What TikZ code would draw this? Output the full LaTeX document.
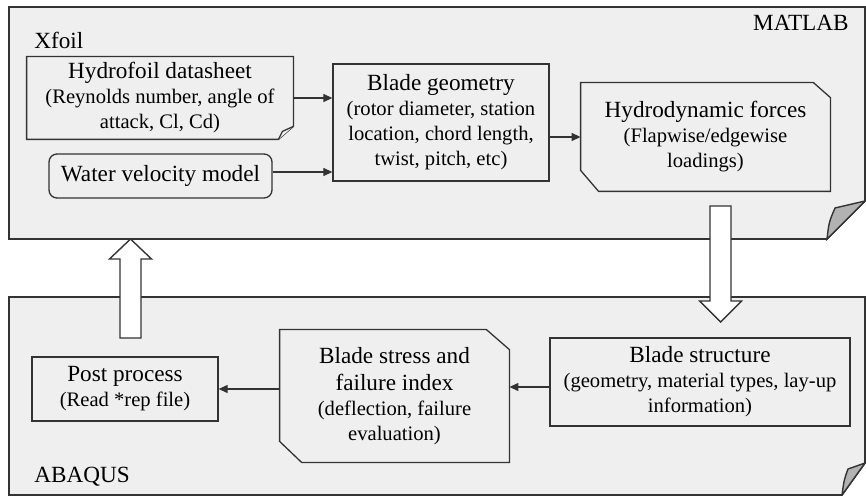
\documentclass[tikz,border=0pt]{standalone}
\usepackage{fontspec}
\setmainfont{Liberation Serif}
\usetikzlibrary{arrows.meta,backgrounds}

\definecolor{panelgray}{HTML}{EFEFEF}
\definecolor{foldgray}{HTML}{B2B2B2}
\definecolor{edgegray}{HTML}{333333}
\newcommand{\boxsub}{\fontsize{10.3}{12.5}\selectfont}
\newcommand{\boxtitle}{\fontsize{11.6}{13.5}\selectfont}

\begin{document}
\begin{tikzpicture}[x=0.5pt,y=-0.5pt,
  box/.style={draw=edgegray,line width=0.65pt,fill=panelgray,align=center,inner sep=0pt,font=\boxsub},
  plain/.style={align=center,inner sep=0pt,font=\boxsub},
  outline/.style={draw=edgegray,line width=0.65pt,fill=panelgray},
  flow/.style={draw=edgegray,line width=0.6pt,-{Triangle[length=4.5pt,width=4pt]}},
  panel/.style={draw=edgegray,line width=0.8pt,fill=panelgray},
  fold/.style={draw=edgegray,line width=0.7pt,fill=foldgray},
  blockarrow/.style={draw=edgegray,line width=0.7pt,fill=white},
  tag/.style={inner sep=0pt,font=\boxtitle}]
\useasboundingbox (0,0) rectangle (866,496);

\node[tag,anchor=west] (xfoil) at (34,40) {Xfoil};
\node[tag,anchor=east] (matlab) at (849,23) {MATLAB};
\node[tag,anchor=west] (abaqus) at (34,477) {ABAQUS};

\node[plain,minimum width=133pt,minimum height=41pt] (sheet) at (160,98) {{\boxtitle Hydrofoil datasheet}\\(Reynolds number, angle of\\attack, Cl, Cd)};
\node[box,rounded corners=4pt,minimum width=111.5pt,minimum height=22pt] (water) at (160.5,176) {\boxtitle Water velocity model};
\node[box,minimum width=108pt,minimum height=58.5pt] (geom) at (441,122.5) {{\boxtitle Blade geometry}\\(rotor diameter, station\\location, chord length,\\twist, pitch, etc)};
\node[plain,minimum width=124.5pt,minimum height=54pt] (forces) at (705.5,137) {{\boxtitle Hydrodynamic forces}\\(Flapwise/edgewise\\loadings)};
\node[box,minimum width=150pt,minimum height=44pt] (struct) at (700,382) {{\boxtitle Blade structure}\\(geometry, material types, lay-up\\information)};
\node[plain,minimum width=114.5pt,minimum height=66pt] (stress) at (394.5,396) {{\boxtitle Blade stress and}\\[1pt]{\boxtitle failure index}\\(deflection, failure\\evaluation)};
\node[box,minimum width=93pt,minimum height=32pt] (post) at (125,389) {{\boxtitle Post process}\\(Read *rep file)};

\begin{scope}[on background layer]
\draw[panel] (9,7) -- (865,7) -- (865,201) -- (827,239) -- (9,239) -- cycle;
\draw[fold] (827,239) .. controls (829,222) .. (835,208) .. controls (850,204) .. (865,201) -- cycle;
\draw[panel] (9,297) -- (865,297) -- (865,463) -- (842,495) -- (9,495) -- cycle;
\draw[fold] (842,495) .. controls (844,480) .. (848,469) .. controls (856,466) .. (865,463) -- cycle;
\draw[outline] (sheet.north west) -- (sheet.north east) -- ([yshift=6.5pt]sheet.south east) -- ([xshift=-7.5pt]sheet.south east) -- (sheet.south west) -- cycle;
\draw[outline] ([xshift=-7.5pt]sheet.south east) .. controls ([xshift=-6pt,yshift=3pt]sheet.south east) .. ([xshift=-5.5pt,yshift=4pt]sheet.south east) -- ([yshift=6.5pt]sheet.south east);
\draw[outline] (forces.north west) -- ([xshift=-8.5pt]forces.north east) -- ([yshift=-7.5pt]forces.north east) -- (forces.south east) -- ([xshift=9pt]forces.south west) -- ([yshift=10.5pt]forces.south west) -- cycle;
\draw[outline] (stress.north west) -- ([xshift=-11.5pt]stress.north east) -- ([yshift=-10pt]stress.north east) -- (stress.south east) -- ([xshift=11pt]stress.south west) -- ([yshift=10.5pt]stress.south west) -- cycle;
\end{scope}

\draw[flow] (sheet.east) -- (sheet.east -| geom.west);
\draw[flow] ([yshift=2pt]water.east) -- ([yshift=2pt]water.east -| geom.west);
\draw[flow] (geom.east |- forces.west) -- (forces.west);
\draw[flow] ([yshift=-2.5pt]struct.west) -- ([yshift=-2.5pt]struct.west -| stress.east);
\draw[flow] (stress.west |- post.east) -- (post.east);

\draw[blockarrow] (120,338) -- (120,259) -- (109.5,259) -- (130.5,239) -- (151.5,259) -- (141,259) -- (141,338) -- cycle;
\draw[blockarrow] (710,206) -- (731,206) -- (731,301) -- (741.5,301) -- (720.5,322) -- (699.5,301) -- (710,301) -- cycle;
\end{tikzpicture}
\end{document}
